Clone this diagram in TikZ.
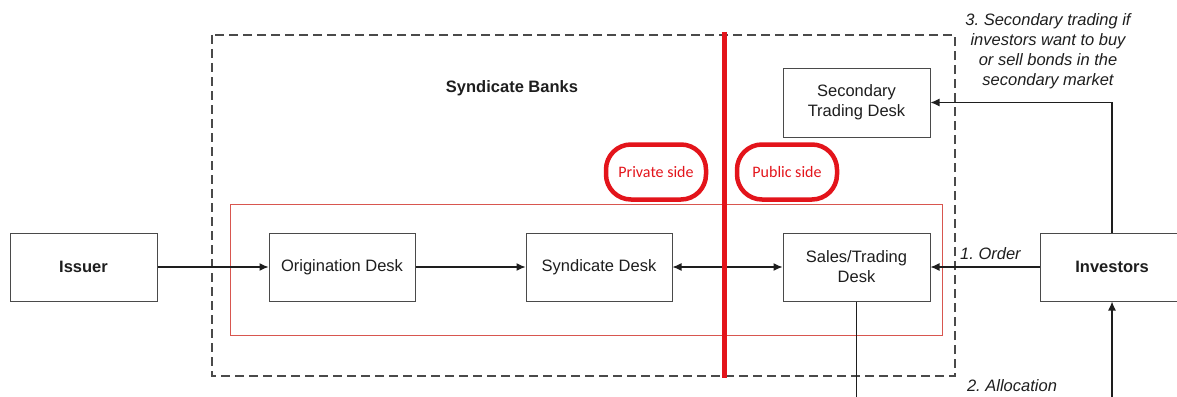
\documentclass[tikz,border=0pt]{standalone}
\usepackage{fontspec}
\setmainfont{Liberation Sans}
\newfontfamily\tagfont{Carlito}
\usetikzlibrary{arrows.meta}
\definecolor{ink}{HTML}{1E1E1E}
\definecolor{frame}{HTML}{4A4A4A}
\definecolor{redline}{HTML}{E3141B}
\definecolor{redthin}{HTML}{D8564F}
\frenchspacing

\begin{document}
\begin{tikzpicture}[x=1pt,y=-1pt,
  desk/.style={draw=frame, line width=1pt, fill=white, minimum width=147pt,
    minimum height=68pt, inner sep=0pt, align=center, text=ink,
    font=\fontsize{16.5}{20}\selectfont},
  tip/.tip={Latex[length=9pt,width=8pt]},
  flow/.style={draw=ink, line width=1.2pt, -tip},
  plain/.style={draw=ink, line width=1.2pt},
  note/.style={text=ink, inner sep=0pt, font=\fontsize{16.5}{20}\selectfont\itshape},
  sidetag/.style={draw=redline, line width=4.5pt, rounded corners=25pt,
    minimum width=100pt, minimum height=55pt, text=redline,
    font=\tagfont\fontsize{16}{19}\selectfont}]
  \useasboundingbox (0,0) rectangle (1177,396);

  % syndicate banks frame and the private-side area
  \draw[draw=frame, line width=1.5pt, dash pattern=on 9pt off 5pt] (212,35) rectangle (955,376);
  \draw[draw=redthin, line width=1pt] (230,204) rectangle (942,335);
  \node[inner sep=0pt, text=ink, font=\fontsize{16.5}{20}\selectfont\bfseries] (banks) at (512,88) {Syndicate Banks};

  % desks
  \node[desk] (issuer) at (83.5,267) {\textbf{Issuer}};
  \node[desk, minimum width=146pt] (orig) at (342,267) {Origination Desk};
  \node[desk, minimum width=146pt] (synd) at (599,267) {Syndicate Desk};
  \node[desk] (sales) at (856.5,267) {Sales/Trading\\Desk};
  \node[desk, minimum height=69pt] (second) at (856.5,102.5) {Secondary\\Trading Desk};
  \node[desk, minimum width=144pt] (investors) at (1112,267) {\textbf{Investors}};

  % side tags
  \node[sidetag] (private) at (656,172) {Private side};
  \node[sidetag] (public) at (787,172) {Public side};

  % flows
  \draw[flow] (issuer) -- (orig);
  \draw[flow] (orig) -- (synd);
  \draw[flow, tip-tip] (synd) -- (sales);
  \draw[flow] (investors) -- (sales);
  \draw[flow] (investors.north) |- (second.east);
  \coordinate (salesout) at (856.5,400);
  \coordinate (invin) at (1112,400);
  \draw[plain] (sales.south) -- (salesout);
  \draw[flow] (invin) -- (investors.south);

  % labels
  \node[note, anchor=west] (order) at (960,254) {1. Order};
  \node[note] (alloc) at (1012,386) {2. Allocation};
  \node[note, align=center] (secnote) at (1048,51) {3. Secondary trading if\\investors want to buy\\or sell bonds in the\\secondary market};

  % information barrier
  \draw[draw=redline, line width=5pt] (724,32) -- (724,378);
\end{tikzpicture}
\end{document}
